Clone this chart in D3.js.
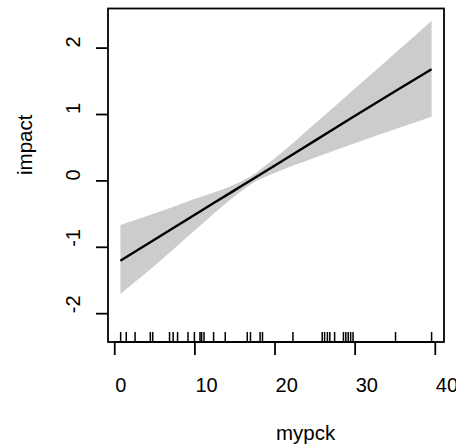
<!DOCTYPE html>
<html>
<head>
<meta charset="utf-8">
<script src="https://cdn.jsdelivr.net/npm/d3@7"></script>
<style>
  body { margin: 0; background: #fff; }
  text { font-family: "Liberation Sans", Arial, sans-serif; fill: #000; }
</style>
</head>
<body>
<svg id="chart" width="456" height="448"></svg>
<script>
// smooth term of mypck
var xs    = [0.77, 5, 10, 15, 17, 20, 25, 30, 35, 39.6];
var fit   = [-1.21, -0.895, -0.52, -0.15, 0.0, 0.22, 0.595, 0.97, 1.34, 1.675];
var upper = [-0.67, -0.50, -0.28, -0.06, 0.06, 0.33, 0.85, 1.38, 1.91, 2.405];
var lower = [-1.71, -1.29, -0.76, -0.24, -0.06, 0.11, 0.34, 0.56, 0.77, 0.96];

// rug of observed mypck values
var rugValues = [0.8, 1.5, 2.6, 4.5, 4.8, 6.9, 7.35, 7.9, 9.2, 10.0, 10.7, 10.9, 11.2,
  12.4, 13.85, 16.6, 17.0, 18.2, 18.5, 22.3, 25.95, 26.25, 26.6, 26.9, 27.5,
  28.6, 28.9, 29.2, 29.5, 29.8, 35.1, 39.6];

var xTicks = [0, 10, 20, 30, 40];
var yTicks = [-2, -1, 0, 1, 2];

var plot = {left: 108, right: 444, top: 8.5, bottom: 342};
var svg = d3.select("#chart");

var xScale = d3.scaleLinear().domain([-0.78, 41.15]).range([plot.left, plot.right]);
var yScale = d3.scaleLinear().domain([-2.434, 2.589]).range([plot.bottom, plot.top]);

var rows = xs.map(function(x, i) {
    return {x: x, fit: fit[i], lo: lower[i], hi: upper[i]};
});

// confidence band
var area = d3.area()
    .x(function(d) { return xScale(d.x); })
    .y0(function(d) { return yScale(d.lo); })
    .y1(function(d) { return yScale(d.hi); })
    .curve(d3.curveMonotoneX);
svg.append("path").datum(rows)
    .attr("d", area)
    .attr("fill", "#cccccc");

// fitted line
var line = d3.line()
    .x(function(d) { return xScale(d.x); })
    .y(function(d) { return yScale(d.fit); })
    .curve(d3.curveMonotoneX);
svg.append("path").datum(rows)
    .attr("d", line)
    .attr("fill", "none")
    .attr("stroke", "#000")
    .attr("stroke-width", 2.4);

// rug
svg.selectAll("line.rug")
    .data(rugValues)
    .enter()
    .append("line")
    .attr("class", "rug")
    .attr("x1", function(d) { return xScale(d); })
    .attr("x2", function(d) { return xScale(d); })
    .attr("y1", plot.bottom)
    .attr("y2", plot.bottom - 10)
    .attr("stroke", "#000")
    .attr("stroke-width", 1.5);

// box
svg.append("rect")
    .attr("x", plot.left).attr("y", plot.top)
    .attr("width", plot.right - plot.left)
    .attr("height", plot.bottom - plot.top)
    .attr("fill", "none")
    .attr("stroke", "#000")
    .attr("stroke-width", 1.8);

// axes
var xAxis = svg.append("g")
    .attr("transform", "translate(0," + plot.bottom + ")")
    .call(d3.axisBottom(xScale).tickValues(xTicks).tickSizeInner(13).tickSizeOuter(0));
var yAxis = svg.append("g")
    .attr("transform", "translate(" + plot.left + ",0)")
    .call(d3.axisLeft(yScale).tickValues(yTicks).tickSizeInner(12).tickSizeOuter(0));

[xAxis, yAxis].forEach(function(ax) {
    ax.selectAll("path.domain").remove();
    ax.selectAll(".tick line").attr("stroke", "#000").attr("stroke-width", 1.8);
    ax.selectAll(".tick text").remove();
});
// axis line only between first and last tick, like base graphics
svg.append("line")
    .attr("x1", xScale(0)).attr("x2", xScale(40))
    .attr("y1", plot.bottom).attr("y2", plot.bottom)
    .attr("stroke", "#000").attr("stroke-width", 1.8);

// tick labels
svg.selectAll("text.xlab")
    .data(xTicks)
    .enter()
    .append("text")
    .attr("class", "xlab")
    .attr("x", function(d) { return xScale(d) + 1; })
    .attr("y", 391.5)
    .attr("font-size", 20)
    .text(function(d) { return d; });

svg.selectAll("text.ylab")
    .data(yTicks)
    .enter()
    .append("text")
    .attr("class", "ylab")
    .attr("transform", function(d) { return "translate(80," + yScale(d) + ") rotate(-90)"; })
    .attr("font-size", 20)
    .text(function(d) { return d; });

// axis titles
svg.append("text")
    .attr("x", 276).attr("y", 440)
    .attr("font-size", 20.5)
    .text("mypck");
svg.append("text")
    .attr("transform", "translate(31.5,175) rotate(-90)")
    .attr("font-size", 20.5)
    .text("impact");
</script>
</body>
</html>
